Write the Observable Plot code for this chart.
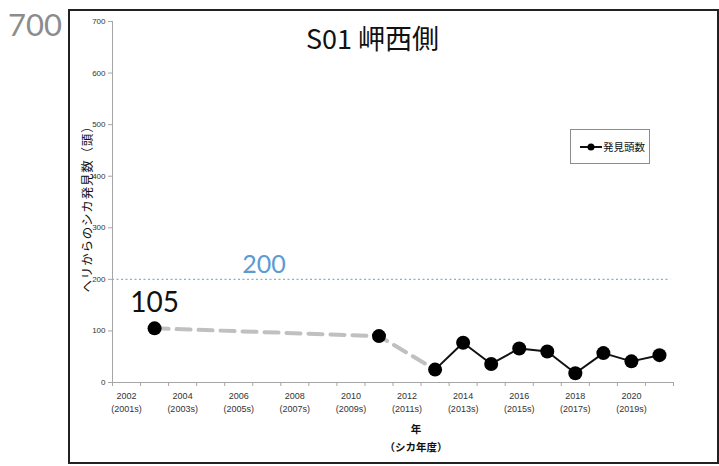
<!DOCTYPE html>
<html>
<head>
<meta charset="utf-8">
<script src="https://cdn.jsdelivr.net/npm/d3@7"></script>
<script src="https://cdn.jsdelivr.net/npm/@observablehq/plot@0.6"></script>
<style>
  html, body { margin: 0; padding: 0; background: #fff; }
  #wrap { position: relative; width: 719px; height: 466px; overflow: hidden; font-family: "Noto Sans CJK JP", "Liberation Sans", sans-serif; }
  #wrap svg { position: absolute; left: 0; top: 0; }
  .abs { position: absolute; white-space: nowrap; }
  #frame { left: 68px; top: 9px; width: 647px; height: 451px; border: 2px solid #222; }
  #big700 { left: 8px; top: 5px; font-family: Lato, "Open Sans", sans-serif; font-size: 31px; color: #8c8c8c; }
  #title { left: 306px; top: 22px; font-size: 27px; color: #111; line-height: 1.2; }
  #ylab { left: 86px; top: 206px; font-size: 12.5px; color: #111; transform: translate(-50%, -50%) rotate(-90deg); letter-spacing: 0.8px; }
  #xlab { left: 416px; top: 420px; font-size: 10.5px; font-weight: bold; color: #111; transform: translateX(-50%); text-align: center; line-height: 18px; }
  #legend { left: 570px; top: 129px; width: 80px; height: 35px; border: 1px solid #8c8c8c; box-sizing: border-box; display: flex; align-items: center; padding-left: 9px; font-size: 10.5px; color: #111; }
  #legend svg { position: static; margin-right: 1px; }
</style>
</head>
<body>
<div id="wrap">
  <div id="chart"></div>
  <div class="abs" id="frame"></div>
  <div class="abs" id="big700">700</div>
  <div class="abs" id="title">S01 岬西側</div>
  <div class="abs" id="ylab">ヘリからのシカ発見数（頭）</div>
  <div class="abs" id="xlab">年<br>（シカ年度）</div>
  <div class="abs" id="legend"><svg width="22" height="10"><line x1="0" y1="5" x2="22" y2="5" stroke="#111" stroke-width="2"/><circle cx="11" cy="5" r="3.5" fill="#000"/></svg>発見頭数</div>
</div>
<script>
// Data
const years  = [2003, 2011, 2013, 2014, 2015, 2016, 2017, 2018, 2019, 2020, 2021];
const counts = [105,   90,   25,   77,   36,   66,   60,   18,   57,   41,   53];
const tickYears = [2002, 2004, 2006, 2008, 2010, 2012, 2014, 2016, 2018, 2020];
const deerYearLabels = ["(2001s)", "(2003s)", "(2005s)", "(2007s)", "(2009s)", "(2011s)", "(2013s)", "(2015s)", "(2017s)", "(2019s)"];
const yTicks = [0, 100, 200, 300, 400, 500, 600, 700];
const targetValue = [200];
const firstLabel = ["105"];

const data = years.map((year, i) => ({year, count: counts[i]}));
const dashed = data.filter(d => d.year <= 2013);
const solid = data.filter(d => d.year >= 2013);
const categoryEdges = d3.range(2001.5, 2022, 1);
const subLabel = new Map(tickYears.map((y, i) => [y, deerYearLabels[i]]));

const chart = Plot.plot({
  width: 719,
  height: 466,
  marginLeft: 112,
  marginRight: 46,
  marginTop: 21,
  marginBottom: 84,
  x: {domain: [2001.5, 2021.5]},
  y: {domain: [0, 700]},
  style: {fontFamily: "Liberation Sans, Arial, sans-serif", background: "transparent"},
  marks: [
    Plot.ruleY(targetValue, {x1: 2001.5, x2: 2021.4, stroke: "#7fb3d8", strokeWidth: 1.3, strokeDasharray: "2,2.5"}),
    Plot.text(targetValue, {x: 2006.9, y: d => d, text: d => String(d), dy: -6, lineAnchor: "bottom", fill: "#5b9bd5", fontSize: 25, fontFamily: "Lato, Open Sans, sans-serif"}),
    Plot.ruleY([0], {stroke: "#a6a6a6"}),
    Plot.ruleX([2001.5], {stroke: "#a6a6a6"}),
    Plot.axisY({ticks: yTicks, tickSize: 4, tickPadding: 3, fontSize: 8, stroke: "#a6a6a6", fill: "#333", label: null}),
    Plot.axisX({ticks: categoryEdges, tickSize: 4, tickFormat: () => "", stroke: "#a6a6a6", label: null}),
    Plot.axisX({ticks: tickYears, tickSize: 0, tickPadding: 7, tickFormat: d => `${d}\n${subLabel.get(d)}`, fontSize: 9, fill: "#333", lineHeight: 1.45, label: null}),
    Plot.line(dashed, {x: "year", y: "count", stroke: "#c0c0c0", strokeWidth: 4, strokeDasharray: "14,8"}),
    Plot.line(solid, {x: "year", y: "count", stroke: "#111", strokeWidth: 2}),
    Plot.dot(data, {x: "year", y: "count", r: 7, fill: "#000"}),
    Plot.text(firstLabel, {x: years[0], y: counts[0], text: d => d, dy: -16, lineAnchor: "bottom", fill: "#111", fontSize: 28, fontFamily: "Lato, Open Sans, sans-serif"})
  ]
});
document.getElementById("chart").appendChild(chart);
</script>
</body>
</html>
